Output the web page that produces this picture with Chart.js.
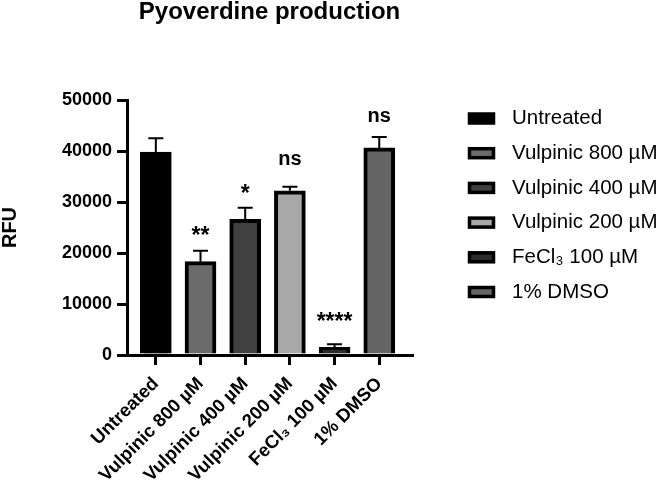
<!DOCTYPE html>
<html>
<head>
<meta charset="utf-8">
<script src="https://cdn.jsdelivr.net/npm/chart.js@4.4.1/dist/chart.umd.min.js"></script>
<style>
  html, body { margin: 0; padding: 0; background: #fff; }
  #wrap { width: 662px; height: 486px; position: relative; }
</style>
</head>
<body>
<div id="wrap"><canvas id="chart"></canvas></div>
<script>
const categories = ['Untreated', 'Vulpinic 800 µM', 'Vulpinic 400 µM', 'Vulpinic 200 µM', 'FeCl₃ 100 µM', '1% DMSO'];
const rfu = [39800, 18300, 26600, 32200, 1500, 40600];
const rfuError = [2700, 2150, 2250, 800, 600, 2150];
const significance = ['', '**', '*', 'ns', '****', 'ns'];
const yTicks = [0, 10000, 20000, 30000, 40000, 50000];
const fills = ['#000000', '#6b6b6b', '#404040', '#a8a8a8', '#2c2c2c', '#656565'];

const FONT = '"Liberation Sans", Arial, sans-serif';
Chart.defaults.font.family = FONT;
Chart.defaults.color = '#000';

// one-sided error bars plus the significance marks above each bar
const errorBars = {
  id: 'errorBars',
  afterDatasetsDraw(chart) {
    const { ctx, scales: { x, y } } = chart;
    ctx.save();
    ctx.strokeStyle = '#000';
    ctx.lineWidth = 2;
    rfu.forEach((v, i) => {
      const cx = x.getPixelForValue(i);
      const top = y.getPixelForValue(v + rfuError[i]);
      const base = y.getPixelForValue(v);
      ctx.beginPath();
      ctx.moveTo(cx, base);
      ctx.lineTo(cx, top);
      ctx.moveTo(cx - 7.5, top);
      ctx.lineTo(cx + 7.5, top);
      ctx.stroke();

      const label = significance[i];
      if (!label) return;
      const stars = label[0] === '*';
      const size = stars ? 23 : 20;
      ctx.font = `bold ${size}px ${FONT}`;
      ctx.fillStyle = '#000';
      ctx.textAlign = 'center';
      ctx.textBaseline = 'alphabetic';
      const mid = base - 31;
      ctx.fillText(label, cx, mid + (stars ? 0.55 : 0.27) * size);
    });
    ctx.restore();
  }
};

// legend column to the right of the plot, like the Prism export
const sideLegend = {
  id: 'sideLegend',
  afterDraw(chart) {
    const { ctx, chartArea } = chart;
    const boxX = chartArea.right + 57.5;
    ctx.save();
    ctx.font = `20.5px ${FONT}`;
    ctx.textAlign = 'left';
    ctx.textBaseline = 'middle';
    ctx.lineWidth = 3.5;
    ctx.strokeStyle = '#000';
    categories.forEach((c, i) => {
      const cy = chartArea.top + 18.5 + i * 34.7;
      ctx.fillStyle = fills[i];
      ctx.fillRect(boxX, cy - 4.5, 24, 9);
      ctx.strokeRect(boxX, cy - 4.5, 24, 9);
      ctx.fillStyle = '#000';
      ctx.fillText(c, boxX + 42.5, cy);
    });
    ctx.restore();
  }
};

new Chart(document.getElementById('chart'), {
  type: 'bar',
  data: {
    datasets: [{
      data: rfu.map((v, i) => ({ x: i, y: v })),
      backgroundColor: fills,
      borderColor: '#000',
      borderWidth: 4,
      borderSkipped: 'bottom',
      barThickness: 31
    }]
  },
  options: {
    responsive: true,
    maintainAspectRatio: false,
    animation: false,
    layout: { padding: { top: 0, right: 250, bottom: 0, left: 0 } },
    plugins: {
      title: {
        display: true,
        text: 'Pyoverdine production',
        fullSize: false,
        color: '#000',
        font: { size: 24, weight: 'bold', lineHeight: 1 },
        padding: { top: 0, bottom: 76 }
      },
      legend: { display: false },
      tooltip: { enabled: false }
    },
    scales: {
      x: {
        type: 'linear',
        offset: false,
        min: -0.644,
        max: 5.733,
        afterBuildTicks: s => { s.ticks = categories.map((_, i) => ({ value: i })); },
        afterFit: s => { s.height = 131; },
        ticks: {
          callback: v => categories[v],
          autoSkip: false,
          minRotation: 45,
          maxRotation: 45,
          padding: 8,
          color: '#000',
          font: { size: 18.5, weight: 'bold' }
        },
        grid: { display: true, offset: false, drawOnChartArea: false, drawTicks: true, tickLength: 10, lineWidth: 3, color: '#000' },
        border: { display: true, width: 3, color: '#000' }
      },
      y: {
        min: 0,
        max: 50000,
        afterBuildTicks: s => { s.ticks = yTicks.map(v => ({ value: v })); },
        ticks: { padding: 5, color: '#000', font: { size: 18, weight: 'bold' }, callback: v => String(v) },
        title: {
          display: true,
          text: 'RFU',
          color: '#000',
          font: { size: 20, weight: 'bold', lineHeight: 1.05 },
          padding: { top: 0, bottom: 36 }
        },
        grid: { display: true, drawOnChartArea: false, drawTicks: true, tickLength: 10, lineWidth: 3, color: '#000' },
        border: { display: true, width: 3, color: '#000' }
      }
    }
  },
  plugins: [errorBars, sideLegend]
});
</script>
</body>
</html>
